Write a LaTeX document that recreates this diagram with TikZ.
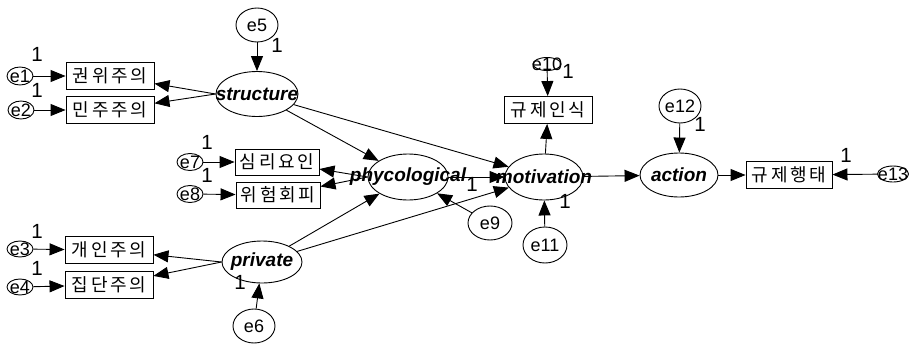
\documentclass[tikz,border=0pt]{standalone}
\usepackage{fontspec}
\setmainfont{Liberation Sans}
\newfontfamily\kr[LetterSpace=15]{Noto Sans CJK KR}
\usetikzlibrary{shapes.geometric,arrows.meta}
\tikzset{
  x=1pt,y=-1pt,
  lat/.style={ellipse,draw,line width=0.9pt,inner sep=0pt},
  lattext/.style={inner sep=0pt,font=\fontsize{19}{19}\selectfont\bfseries\itshape},
  err/.style={ellipse,draw,line width=0.9pt,inner sep=0pt},
  errtext/.style={inner sep=0pt,font=\fontsize{18}{18}\selectfont},
  obs/.style={rectangle,draw,line width=0.9pt,minimum width=88pt,minimum height=27pt,inner sep=0pt,font=\kr\fontsize{18}{18}\selectfont},
  one/.style={inner sep=0pt,font=\fontsize{20.5}{20.5}\selectfont},
  arr/.style={-{Triangle[length=15pt,width=12pt]},line width=0.9pt},
}
\begin{document}
\begin{tikzpicture}
\useasboundingbox (0,0) rectangle (909,343);
% latent variables
\node[lat,minimum width=82pt,minimum height=45pt,label={[lattext]center:structure}] (str) at (257,94) {};
\node[lat,minimum width=80pt,minimum height=42pt,label={[lattext]center:private}] (pri) at (262,262) {};
\node[lat,minimum width=80pt,minimum height=46pt,label={[lattext]center:phycological}] (phy) at (408,177) {};
\node[lat,minimum width=78pt,minimum height=46pt,label={[lattext]center:motivation}] (mot) at (544,177) {};
\node[lat,minimum width=78pt,minimum height=44pt,label={[lattext]center:action}] (act) at (679,175) {};
% observed
\node[obs] (b1) at (110,76) {권위주의};
\node[obs] (b2) at (110,110) {민주주의};
\node[obs,minimum width=84pt,minimum height=26pt] (b3) at (277,162) {심리요인};
\node[obs,minimum width=84pt,minimum height=26pt] (b4) at (278,195) {위험회피};
\node[obs] (b5) at (109,250) {개인주의};
\node[obs] (b6) at (109,285) {집단주의};
\node[obs] (b7) at (548,110) {규제인식};
\node[obs,minimum width=86pt] (b8) at (789,175) {규제행태};
% errors
\node[err,minimum width=42pt,minimum height=34pt,label={[errtext]center:e5}] (e5) at (257,25) {};
\node[err,minimum width=26pt,minimum height=18pt,label={[errtext]center:e1}] (e1) at (20,76) {};
\node[err,minimum width=26pt,minimum height=18pt,label={[errtext]center:e2}] (e2) at (21,110) {};
\node[err,minimum width=26pt,minimum height=17pt,label={[errtext]center:e7}] (e7) at (190,162) {};
\node[err,minimum width=26pt,minimum height=17pt,label={[errtext]center:e8}] (e8) at (190,194) {};
\node[err,minimum width=26pt,minimum height=16pt,label={[errtext]center:e3}] (e3) at (20,249) {};
\node[err,minimum width=26pt,minimum height=16pt,label={[errtext]center:e4}] (e4) at (20,287) {};
\node[err,minimum width=42pt,minimum height=34pt,label={[errtext]center:e6}] (e6) at (254,326) {};
\node[err,minimum width=44pt,minimum height=34pt,label={[errtext]center:e9}] (e9) at (490,223) {};
\node[err,minimum width=28pt,minimum height=13pt,label={[errtext]center:e10}] (e10) at (547,64) {};
\node[err,minimum width=44pt,minimum height=36pt,label={[errtext]center:e11}] (e11) at (545,245) {};
\node[err,minimum width=42pt,minimum height=34pt,label={[errtext]center:e12}] (e12) at (680,106) {};
\node[err,minimum width=31pt,minimum height=16pt,label={[errtext]center:e13}] (e13) at (893,174) {};
% ones
\node[one] (o1) at (37,54) {1};
\node[one] (o2) at (37,90) {1};
\node[one] (o5) at (277,45) {1};
\node[one] (o7) at (207,142) {1};
\node[one] (o8) at (207,175) {1};
\node[one] (o3) at (37,231) {1};
\node[one] (o4) at (37,268) {1};
\node[one] (o6) at (240,282) {1};
\node[one] (o9) at (472,184) {1};
\node[one] (o10) at (568,71) {1};
\node[one] (o11) at (565,201) {1};
\node[one] (o12) at (700,124) {1};
\node[one] (o13) at (846,155) {1};
% connectors
\draw[arr] (e5) -- (str);
\draw[arr] (str.west) -- (b1);
\draw[arr] (str.west) -- (b2);
\draw[arr] (e1) -- (b1);
\draw[arr] (e2) -- (b2);
\draw[arr] (str) -- (phy);
\draw[arr] (str) -- (mot);
\draw[arr] (e7) -- (b3);
\draw[arr] (e8) -- (b4);
\draw[arr] (phy.west) -- (b3);
\draw[arr] (phy.west) -- (b4);
\draw[arr] (e3) -- (b5);
\draw[arr] (e4) -- (b6);
\draw[arr] (pri.west) -- (b5);
\draw[arr] (pri.west) -- (b6);
\draw[arr] (e6) -- (pri);
\draw[arr] (pri) -- (phy);
\draw[arr] (pri) -- (mot);
\draw[arr] (phy) -- (mot);
\draw[arr] (e9) -- (phy);
\draw[arr] (mot) -- (b7);
\draw[arr] (e10) -- (b7);
\draw[arr] (e11) -- (mot);
\draw[arr] (mot) -- (act);
\draw[arr] (e12) -- (act);
\draw[arr] (act) -- (b8);
\draw[arr] (e13) -- (b8);
\end{tikzpicture}
\end{document}
